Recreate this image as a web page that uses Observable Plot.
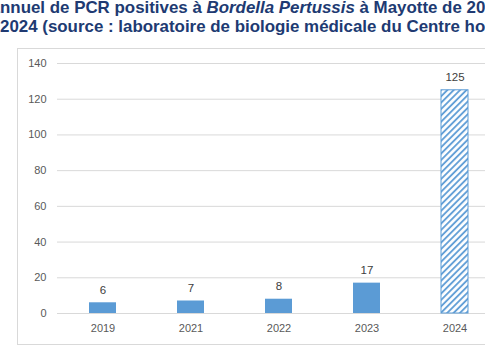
<!DOCTYPE html>
<html>
<head>
<meta charset="utf-8">
<script src="https://cdn.jsdelivr.net/npm/d3@7"></script>
<script src="https://cdn.jsdelivr.net/npm/@observablehq/plot@0.6"></script>
<style>
  html, body { margin: 0; padding: 0; background: #fff; }
  body { width: 485px; height: 356px; overflow: hidden; position: relative; }
  #title { position: absolute; left: 0; top: -2px; width: 2000px; white-space: nowrap;
    font-family: "Liberation Sans", Arial, sans-serif; font-weight: bold; font-size: 16.9px;
    line-height: 19px; color: #203A72; }
  #title .line { display: block; }
  #box { position: absolute; left: 17px; top: 48px; width: 520px; height: 297px;
    border: 1px solid #d9d9d9; box-sizing: border-box; }
  #chart { position: absolute; left: 0; top: 46px; }
</style>
</head>
<body>
<div id="box"></div>
<div id="title">
  <span class="line" id="l1"><span id="pre">Nombre a</span>nnuel de PCR positives à <i>Bordella Pertussis</i> à Mayotte de 2019 à</span>
  <span class="line" id="l2">2024 (source : laboratoire de biologie médicale du Centre hospitalier de Mayotte)</span>
</div>
<div id="chart"></div>
<script>
const years = ["2019", "2021", "2022", "2023", "2024"];
const counts = [6, 7, 8, 17, 125];
const hatched = [false, false, false, false, true];
const yTicks = [0, 20, 40, 60, 80, 100, 120, 140];

const data = years.map((y, i) => ({year: y, count: counts[i], hatched: hatched[i]}));

// shift line 1 so the hidden prefix is out of view, as in the cropped reference
const pre = document.getElementById("pre");
document.getElementById("l1").style.marginLeft = (-pre.getBoundingClientRect().width) + "px";

const svg = Plot.plot({
  width: 485,
  height: 310,
  marginTop: 17,
  marginBottom: 43,
  marginLeft: 57,
  marginRight: 0,
  style: {fontFamily: "Liberation Sans, Arial, sans-serif", fontSize: "11px", color: "#595959", background: "transparent", overflow: "visible"},
  x: {domain: years, range: [57, 500], paddingInner: 0.695, paddingOuter: 0.3475, label: null, tickSize: 0, tickPadding: 11},
  y: {domain: [0, 140], ticks: yTicks, label: null, tickSize: 0, tickPadding: 11},
  marks: [
    Plot.ruleY(yTicks, {stroke: "#d9d9d9", strokeWidth: 1}),
    Plot.barY(data.filter(d => !d.hatched), {x: "year", y: "count", fill: "#5B9BD5"}),
    Plot.barY(data.filter(d => d.hatched), {x: "year", y: "count", fill: "url(#hatch)", stroke: "#5B9BD5", strokeWidth: 1}),
    Plot.text(data, {x: "year", y: "count", text: d => String(d.count), dy: -9, lineAnchor: "bottom", fill: "#404040", fontSize: 11.5})
  ]
});

const ns = "http://www.w3.org/2000/svg";
const defs = document.createElementNS(ns, "defs");
defs.innerHTML = '<pattern id="hatch" patternUnits="userSpaceOnUse" width="4.5" height="4.5" patternTransform="rotate(45)">' +
  '<rect width="4.5" height="4.5" fill="white"/>' +
  '<line x1="1" y1="0" x2="1" y2="4.5" stroke="#5B9BD5" stroke-width="1.8"/></pattern>';
svg.insertBefore(defs, svg.firstChild);

document.getElementById("chart").appendChild(svg);
</script>
</body>
</html>
